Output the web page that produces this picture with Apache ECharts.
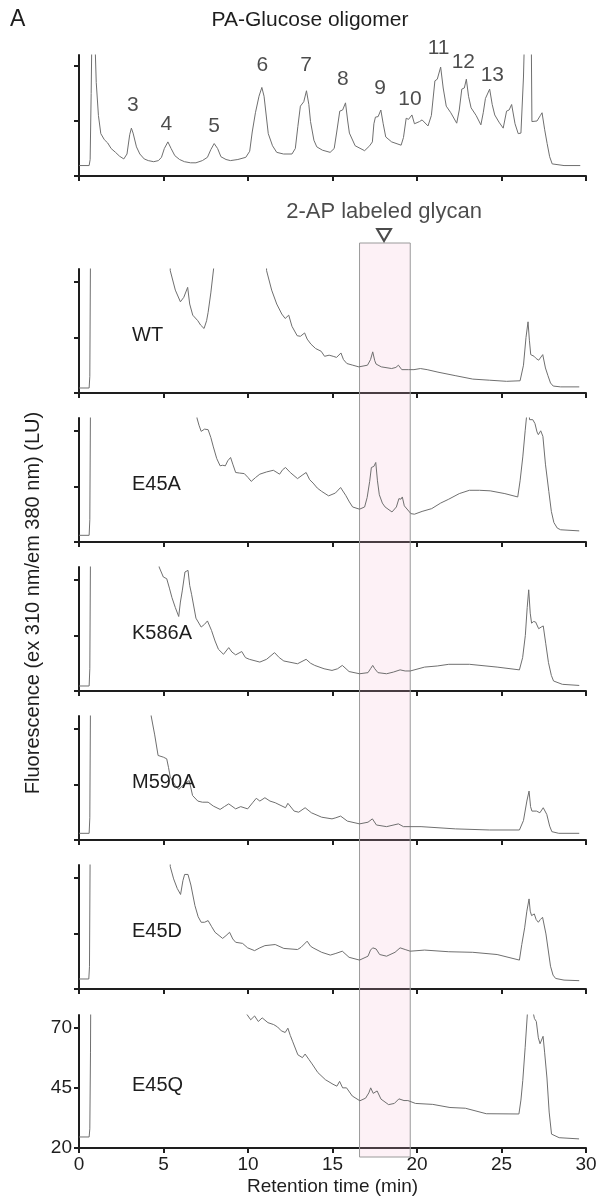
<!DOCTYPE html>
<html>
<head>
<meta charset="utf-8">
<script src="https://cdn.jsdelivr.net/npm/echarts@6/dist/echarts.min.js"></script>
<style>
  html, body { margin: 0; padding: 0; background: #fff; }
  #chart { width: 601px; height: 1197px; }
</style>
</head>
<body>
<div id="chart"></div>
<script>
// retention time (min) / signal pairs
const oligomerTrace = [[0,0.19],[0.6,0.19],[0.66,0.3],[0.72,1.5],[0.78,3],[0.88,3],[0.95,2.4],[1.02,1.7],[1.15,1.1],[1.29,0.77],[1.5,0.66],[1.7,0.6],[1.9,0.5],[2.16,0.43],[2.4,0.36],[2.65,0.31],[2.84,0.4],[3.0,0.75],[3.1,0.87],[3.2,0.78],[3.4,0.53],[3.6,0.4],[3.86,0.31],[4.1,0.28],[4.42,0.26],[4.7,0.28],[4.88,0.34],[5.05,0.5],[5.26,0.62],[5.45,0.5],[5.67,0.37],[5.95,0.3],[6.24,0.26],[6.6,0.24],[6.92,0.24],[7.3,0.28],[7.6,0.34],[7.8,0.48],[8.0,0.59],[8.2,0.5],[8.4,0.35],[8.7,0.3],[8.96,0.28],[9.4,0.3],[9.87,0.34],[10.1,0.45],[10.25,0.8],[10.44,1.15],[10.65,1.45],[10.82,1.61],[10.95,1.45],[11.2,0.77],[11.45,0.55],[11.7,0.43],[12.1,0.4],[12.6,0.4],[12.8,0.5],[12.95,0.9],[13.1,1.27],[13.3,1.35],[13.46,1.55],[13.6,1.3],[13.7,0.99],[13.9,0.65],[14.07,0.53],[14.4,0.47],[14.86,0.43],[15.1,0.5],[15.25,0.8],[15.43,1.18],[15.6,1.2],[15.77,1.33],[15.9,1.0],[16.0,0.78],[16.34,0.55],[16.9,0.46],[17.2,0.55],[17.36,0.62],[17.45,0.95],[17.54,1.07],[17.7,1.08],[17.86,1.2],[18.0,0.95],[18.15,0.71],[18.5,0.62],[19.06,0.56],[19.2,0.7],[19.36,1.05],[19.5,1.03],[19.7,1.11],[19.85,0.95],[19.96,0.92],[20.15,0.99],[20.3,1.02],[20.65,0.91],[20.85,1.1],[21.06,1.73],[21.2,1.76],[21.4,1.98],[21.55,1.6],[21.73,1.27],[22.0,1.15],[22.35,0.96],[22.5,1.2],[22.65,1.58],[22.8,1.6],[22.92,1.76],[23.05,1.45],[23.2,1.24],[23.5,1.1],[23.78,0.93],[23.92,1.15],[24.05,1.41],[24.15,1.4],[24.3,1.58],[24.45,1.3],[24.6,1.11],[24.85,0.98],[25.1,0.87],[25.3,1.18],[25.45,1.2],[25.6,1.3],[25.8,0.95],[25.99,0.77],[26.15,0.78],[26.3,1.8],[26.4,3],[26.75,3],[26.8,0.99],[27.1,1.0],[27.3,1.1],[27.4,1.15],[27.55,0.85],[27.7,0.59],[27.85,0.35],[28.0,0.22],[28.7,0.19],[29.66,0.19]];

const wtTrace = [[0,0.09],[0.6,0.09],[0.64,0.3],[0.68,2.5],[0.7,4],[5.3,4],[5.4,2.2],[5.7,1.85],[6.0,1.64],[6.2,1.72],[6.43,1.9],[6.55,1.6],[6.73,1.4],[7.03,1.3],[7.2,1.22],[7.4,1.16],[7.55,1.3],[7.64,1.45],[7.8,1.8],[7.99,2.3],[8.1,4],[11.0,4],[11.1,2.2],[11.4,1.85],[11.7,1.6],[12.0,1.42],[12.2,1.34],[12.41,1.4],[12.6,1.2],[12.91,1.03],[13.1,1.02],[13.35,1.08],[13.5,0.97],[13.72,0.88],[14.0,0.8],[14.33,0.75],[14.53,0.66],[14.8,0.68],[15.04,0.66],[15.24,0.64],[15.5,0.72],[15.65,0.6],[15.85,0.53],[16.2,0.5],[16.56,0.47],[17.07,0.5],[17.25,0.6],[17.38,0.74],[17.5,0.58],[17.58,0.52],[17.89,0.47],[18.5,0.44],[18.75,0.46],[18.9,0.5],[19.1,0.42],[19.5,0.42],[19.82,0.42],[20.2,0.44],[20.6,0.42],[21.24,0.375],[22.3,0.31],[23.3,0.25],[24.3,0.23],[25.3,0.21],[26.1,0.22],[26.3,0.5],[26.45,1.0],[26.57,1.28],[26.65,0.95],[26.73,0.69],[26.93,0.66],[27.05,0.62],[27.2,0.59],[27.44,0.69],[27.6,0.45],[27.75,0.31],[27.9,0.18],[28.06,0.125],[28.5,0.11],[29.6,0.11]];

const e45aTrace = [[0,0.12],[0.6,0.12],[0.64,0.4],[0.68,2.5],[0.7,4],[6.9,4],[6.98,2.23],[7.1,2.1],[7.23,1.99],[7.43,2.03],[7.64,2.02],[7.8,1.88],[7.95,1.71],[8.15,1.5],[8.35,1.37],[8.5,1.38],[8.66,1.37],[8.8,1.46],[8.97,1.52],[9.1,1.4],[9.27,1.25],[9.5,1.24],[9.78,1.23],[10.0,1.16],[10.19,1.09],[10.45,1.16],[10.7,1.22],[11.1,1.26],[11.5,1.29],[11.87,1.22],[12.05,1.3],[12.22,1.34],[12.5,1.25],[12.93,1.14],[13.2,1.2],[13.44,1.25],[13.65,1.12],[13.85,1.06],[14.1,0.97],[14.36,0.91],[14.77,0.83],[15.17,0.88],[15.48,0.98],[15.65,0.9],[15.78,0.84],[16.0,0.72],[16.19,0.63],[16.6,0.59],[16.9,0.63],[17.05,0.8],[17.2,1.09],[17.3,1.34],[17.45,1.36],[17.56,1.43],[17.66,1.1],[17.77,0.85],[17.95,0.7],[18.11,0.63],[18.52,0.54],[18.78,0.63],[18.93,0.78],[19.05,0.77],[19.13,0.81],[19.25,0.65],[19.34,0.63],[19.64,0.51],[19.85,0.5],[20.3,0.55],[20.87,0.6],[21.4,0.7],[21.88,0.77],[22.5,0.87],[23.1,0.93],[23.7,0.93],[24.33,0.92],[25.2,0.87],[25.96,0.81],[26.1,1.1],[26.26,1.53],[26.4,2.0],[26.53,2.4],[26.6,2.5],[26.66,2.2],[26.73,2.17],[26.85,2.2],[26.98,2.13],[27.1,1.98],[27.18,1.93],[27.32,2.0],[27.45,1.9],[27.6,1.4],[27.8,0.91],[27.95,0.55],[28.1,0.35],[28.3,0.25],[28.5,0.22],[29.6,0.2]];

const k586aTrace = [[0,0.09],[0.6,0.09],[0.64,0.4],[0.68,2.5],[0.7,4],[4.65,4],[4.74,2.23],[4.99,2.05],[5.19,2.02],[5.35,1.85],[5.5,1.68],[5.7,1.5],[5.9,1.34],[6.0,1.6],[6.11,1.8],[6.27,2.14],[6.45,2.17],[6.55,1.9],[6.66,1.74],[6.92,1.31],[7.23,1.15],[7.43,1.2],[7.6,1.26],[7.84,1.09],[8.05,0.9],[8.25,0.75],[8.55,0.66],[8.86,0.78],[9.05,0.7],[9.27,0.65],[9.63,0.71],[9.85,0.6],[10.08,0.57],[10.7,0.52],[11.1,0.57],[11.57,0.69],[11.85,0.6],[12.12,0.54],[12.93,0.49],[13.44,0.57],[13.7,0.5],[13.95,0.46],[14.5,0.4],[14.97,0.37],[15.3,0.4],[15.58,0.46],[15.8,0.4],[15.98,0.35],[16.6,0.31],[17.1,0.33],[17.25,0.4],[17.38,0.46],[17.5,0.4],[17.69,0.33],[18.2,0.31],[18.6,0.34],[19.0,0.38],[19.3,0.36],[19.6,0.36],[20.45,0.43],[21.2,0.45],[21.88,0.48],[23.1,0.48],[24.74,0.43],[26.06,0.38],[26.25,0.6],[26.41,1.0],[26.52,1.5],[26.61,1.82],[26.7,1.4],[26.78,1.22],[26.9,1.25],[27.02,1.24],[27.2,1.12],[27.35,1.15],[27.47,1.17],[27.62,0.85],[27.78,0.51],[27.95,0.28],[28.08,0.18],[28.6,0.12],[29.6,0.1]];

const m590aTrace = [[0,0.12],[0.6,0.12],[0.64,0.4],[0.68,2.5],[0.7,4],[4.2,4],[4.27,2.23],[4.48,1.89],[4.68,1.52],[4.99,1.49],[5.19,1.46],[5.3,1.3],[5.4,1.13],[5.7,0.98],[5.9,0.91],[6.21,1.0],[6.52,1.07],[6.72,0.8],[7.03,0.7],[7.3,0.68],[7.64,0.68],[7.95,0.61],[8.35,0.55],[8.6,0.6],[8.86,0.65],[9.27,0.56],[9.57,0.6],[9.98,0.56],[10.3,0.68],[10.49,0.75],[10.7,0.7],[11.0,0.76],[11.3,0.7],[11.61,0.67],[12.22,0.58],[12.36,0.66],[12.73,0.52],[13.0,0.5],[13.38,0.58],[13.75,0.49],[14.36,0.41],[14.97,0.38],[15.2,0.4],[15.48,0.43],[15.88,0.34],[16.6,0.29],[17.1,0.32],[17.36,0.38],[17.6,0.27],[18.2,0.24],[18.9,0.29],[19.2,0.24],[20.24,0.24],[22.28,0.2],[24.3,0.18],[26.06,0.18],[26.3,0.35],[26.5,0.7],[26.63,0.88],[26.72,0.6],[26.8,0.52],[27.07,0.52],[27.27,0.49],[27.47,0.58],[27.68,0.46],[27.85,0.25],[27.98,0.15],[28.39,0.12],[29.6,0.12]];

const e45dTrace = [[0,0.18],[0.58,0.18],[0.62,0.4],[0.66,2.5],[0.68,4],[5.3,4],[5.4,2.2],[5.6,1.98],[5.81,1.81],[6.01,1.7],[6.15,1.95],[6.25,2.06],[6.45,2.06],[6.62,1.87],[6.86,1.5],[7.05,1.3],[7.23,1.2],[7.43,1.2],[7.64,1.23],[7.85,1.12],[8.05,1.02],[8.5,0.91],[8.7,0.96],[8.91,1.02],[9.1,0.9],[9.27,0.84],[9.68,0.82],[9.98,0.74],[10.39,0.69],[10.7,0.74],[11.0,0.78],[11.61,0.8],[12.12,0.73],[12.93,0.71],[13.14,0.75],[13.5,0.86],[13.7,0.77],[13.85,0.74],[14.36,0.66],[14.87,0.61],[15.2,0.64],[15.58,0.68],[15.98,0.57],[16.6,0.52],[17.1,0.59],[17.25,0.7],[17.38,0.74],[17.58,0.72],[17.79,0.62],[18.2,0.59],[18.7,0.66],[19.0,0.74],[19.3,0.71],[19.6,0.68],[20.45,0.7],[21.88,0.67],[23.3,0.66],[24.74,0.62],[26.06,0.52],[26.2,0.8],[26.37,1.1],[26.5,1.4],[26.63,1.62],[26.7,1.4],[26.78,1.32],[26.94,1.35],[27.05,1.25],[27.18,1.2],[27.3,1.25],[27.43,1.29],[27.63,0.99],[27.9,0.41],[28.05,0.25],[28.2,0.19],[28.7,0.16],[29.6,0.15]];

const e45qTrace = [[0,24.6],[0.6,24.6],[0.64,28],[0.68,60],[0.7,90],[9.85,90],[9.93,75.8],[10.16,73.5],[10.39,75.1],[10.61,72.8],[10.84,74.3],[11.18,72.3],[11.52,71.5],[11.75,70.5],[11.97,68.9],[12.2,68.2],[12.36,70],[12.5,67],[12.65,64.3],[12.95,58.9],[13.22,57.7],[13.38,59.2],[13.6,57],[13.79,55.1],[14.13,51.5],[14.58,48.5],[15.03,46.6],[15.26,45.8],[15.42,47.8],[15.6,45.1],[15.83,45.1],[16.17,41.7],[16.62,39.7],[16.96,40.8],[17.15,43],[17.26,45.1],[17.41,42.8],[17.64,43.8],[17.87,40.4],[18.32,38.1],[18.66,38.6],[18.93,40.5],[19.23,39.8],[19.46,39.8],[19.91,38.6],[20.93,38.2],[21.95,36.9],[22.86,36.6],[24.1,34.3],[26.03,34.2],[26.15,40],[26.26,48.2],[26.4,62],[26.55,78],[26.83,78],[26.95,74],[27.06,72.8],[27.18,66],[27.28,63.5],[27.46,66.6],[27.55,60],[27.69,49.2],[27.82,35],[27.96,25.8],[28.41,24.3],[29.59,23.8]];

// glucose-unit labels above the oligomer peaks
const peakNames = ['3', '4', '5', '6', '7', '8', '9', '10', '11', '12', '13'];
const peakTimes = [3.18, 5.17, 8.0, 10.85, 13.43, 15.61, 17.81, 19.58, 21.28, 22.74, 24.46];
const peakHeights = [1.28, 0.95, 0.91, 2.01, 2.01, 1.76, 1.59, 1.39, 2.32, 2.06, 1.83];

const e45qTicks = [20, 45, 70];

// glycan window (min) and its marker
const glycanWindow = [16.6, 19.6];
const glycanMarker = 18.05;

const panels = [
  { name: '', trace: oligomerTrace, top: 55, height: 121, min: 0, max: 2.2, ticks: [0, 1, 2] },
  { name: 'WT', trace: wtTrace, top: 269, height: 124, min: 0, max: 2.23, ticks: [0, 1, 2] },
  { name: 'E45A', trace: e45aTrace, top: 418, height: 124, min: 0, max: 2.23, ticks: [0, 1, 2] },
  { name: 'K586A', trace: k586aTrace, top: 567, height: 124, min: 0, max: 2.23, ticks: [0, 1, 2] },
  { name: 'M590A', trace: m590aTrace, top: 716, height: 124, min: 0, max: 2.23, ticks: [0, 1, 2] },
  { name: 'E45D', trace: e45dTrace, top: 865, height: 124, min: 0, max: 2.23, ticks: [0, 1, 2] },
  { name: 'E45Q', trace: e45qTrace, top: 1015, height: 142, min: 20, max: 75.5, ticks: e45qTicks },
];

const FONT = '"Liberation Sans", Arial, Helvetica, sans-serif';
const INK = '#1e1e1e';
const LEFT = 79;
const RIGHT = 15;
const last = panels.length - 1;

const axisStroke = { color: INK, width: 2 };

const grid = panels.map(p => ({ left: LEFT, right: RIGHT, top: p.top, height: p.height }));
// overlay grid for the glycan window spanning the mutant panels
grid.push({ left: LEFT, right: RIGHT, top: 243, height: 914 });

const xAxis = panels.map((p, i) => ({
  type: 'value',
  gridIndex: i,
  min: 0,
  max: 30,
  interval: 5,
  axisLine: { show: true, onZero: false, lineStyle: axisStroke },
  axisTick: { show: true, length: 5, lineStyle: axisStroke },
  axisLabel: {
    show: i === last,
    color: INK,
    fontSize: 19,
    fontFamily: FONT,
    margin: 7,
  },
  splitLine: { show: false },
  name: i === last ? 'Retention time (min)' : '',
  nameLocation: 'middle',
  nameGap: 29,
  nameTextStyle: { color: INK, fontSize: 19, fontFamily: FONT },
}));
xAxis.push({ type: 'value', gridIndex: last + 1, min: 0, max: 30, show: false });

const yAxis = panels.map((p, i) => ({
  type: 'value',
  gridIndex: i,
  min: p.min,
  max: p.max,
  axisLine: { show: true, lineStyle: axisStroke },
  axisTick: { show: true, length: 5, lineStyle: axisStroke, customValues: p.ticks },
  axisLabel: {
    show: i === last,
    customValues: p.ticks,
    color: INK,
    fontSize: 19,
    fontFamily: FONT,
    margin: 7,
  },
  splitLine: { show: false },
}));
yAxis.push({ type: 'value', gridIndex: last + 1, min: 0, max: 1, show: false });

const series = panels.map((p, i) => ({
  type: 'line',
  xAxisIndex: i,
  yAxisIndex: i,
  data: p.trace,
  showSymbol: false,
  clip: true,
  z: 3,
  lineStyle: { color: '#6f6f6f', width: 1 },
}));

series.push({
  type: 'scatter',
  xAxisIndex: 0,
  yAxisIndex: 0,
  clip: false,
  symbolSize: 0,
  data: peakTimes.map((t, k) => ({ value: [t, peakHeights[k]], name: peakNames[k] })),
  label: {
    show: true,
    position: 'inside',
    formatter: '{b}',
    color: INK,
    fontSize: 21,
    fontFamily: FONT,
  },
  z: 4,
});

series.push({
  type: 'scatter',
  xAxisIndex: last + 1,
  yAxisIndex: last + 1,
  clip: false,
  z: 1,
  data: [[glycanMarker, 1]],
  symbol: 'triangle',
  symbolRotate: 180,
  symbolSize: [14, 12],
  symbolOffset: [0, -8],
  itemStyle: { color: '#fff', borderColor: INK, borderWidth: 2 },
  label: {
    show: true,
    position: 'top',
    distance: 5,
    formatter: '2-AP labeled glycan',
    color: INK,
    fontSize: 22,
    fontFamily: FONT,
  },
  markArea: {
    silent: true,
    itemStyle: {
      color: 'rgba(245, 185, 208, 0.2)',
      borderColor: '#9a9a9a',
      borderWidth: 1,
    },
    data: [[{ coord: [glycanWindow[0], 0] }, { coord: [glycanWindow[1], 1] }]],
  },
});

const title = panels
  .map((p, i) => ({
    text: p.name,
    left: 127,
    top: p.top + p.height * 0.5 - 11 - (i === last ? 5 : 0),
    textStyle: { color: INK, fontSize: 20, fontWeight: 'normal', fontFamily: FONT },
  }))
  .filter(t => t.text);

title.push({
  text: 'PA-Glucose oligomer',
  left: 305,
  top: 5,
  textAlign: 'center',
  textStyle: { color: INK, fontSize: 21, fontWeight: 'normal', fontFamily: FONT },
});

const graphic = [
  {
    type: 'text',
    left: 10,
    top: 8,
    style: { text: 'A', fill: INK, fontSize: 23, fontFamily: FONT },
  },
  {
    type: 'text',
    x: 33,
    y: 603,
    rotation: Math.PI / 2,
    style: {
      text: 'Fluorescence (ex 310 nm/em 380 nm) (LU)',
      fill: INK,
      fontSize: 20,
      fontFamily: FONT,
      align: 'center',
      verticalAlign: 'middle',
    },
  },
];

const chart = echarts.init(document.getElementById('chart'), null, { renderer: 'canvas' });
chart.setOption({
  animation: false,
  backgroundColor: '#fff',
  title,
  grid,
  xAxis,
  yAxis,
  series,
  graphic,
});
</script>
</body>
</html>
